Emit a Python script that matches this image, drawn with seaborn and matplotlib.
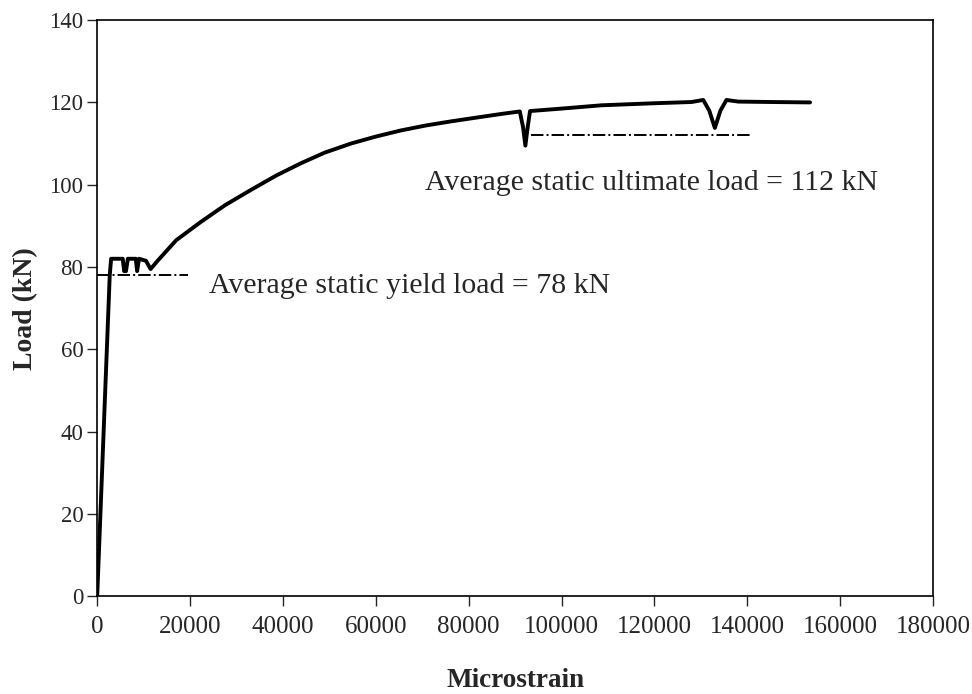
import pandas as pd
import matplotlib.pyplot as plt
import seaborn as sns

# Load-strain curve
strain = [0, 2700, 3000, 5500, 5800, 6200, 6600, 8300, 8600, 9000, 10500,
          11500, 13000, 17000, 22250, 27500, 33050, 38500, 43840, 49000,
          54640, 60000, 65440, 70800, 76240, 81600, 87040, 91000, 91700,
          92200, 92700, 93200, 100000, 108600, 120000, 128000, 130500,
          131800, 133000, 134200, 135500, 138000, 145000, 153500]
load = [0, 78, 82, 82, 79, 79, 82, 82, 79, 82, 81.5,
        79.5, 81.5, 86.5, 90.9, 95, 98.7, 102.2, 105.2, 107.8,
        110, 111.7, 113.2, 114.4, 115.4, 116.3, 117.2, 117.8, 114,
        109.5, 114, 117.9, 118.5, 119.3, 119.8, 120.1, 120.6,
        118, 113.8, 118, 120.6, 120.2, 120.1, 120.0]

# Average static reference lines
yield_x = [0, 19500]
yield_y = [78, 78]
ult_x = [93500, 140600]
ult_y = [112, 112]

yield_text = "Average static yield load = 78 kN"
ult_text = "Average static ultimate load = 112 kN"

x_ticks = [0, 20000, 40000, 60000, 80000, 100000, 120000, 140000, 160000, 180000]
y_ticks = [0, 20, 40, 60, 80, 100, 120, 140]

sns.set_style("ticks")
plt.rcParams['font.family'] = ['Liberation Serif', 'DejaVu Serif']

df = pd.DataFrame({'Microstrain': strain, 'Load': load})

fig = plt.figure(figsize=(9.72, 6.94), dpi=100)
ax = fig.add_axes([0.100, 0.141, 0.860, 0.830])

sns.lineplot(data=df, x='Microstrain', y='Load', sort=False, color='black',
             linewidth=2.8, ax=ax)
ax.plot(yield_x, yield_y, color='black', linestyle='-.', linewidth=1.4)
ax.plot(ult_x, ult_y, color='black', linestyle='-.', linewidth=1.4)

ax.text(24000, 75.4, yield_text, fontsize=21.5, va='center', ha='left')
ax.text(70600, 100.3, ult_text, fontsize=21.5, va='center', ha='left')

ax.set_xlim(0, 180000)
ax.set_ylim(0, 140)
ax.set_xticks(x_ticks)
ax.set_yticks(y_ticks)
ax.tick_params(axis='x', direction='out', length=7, width=1, pad=7, labelsize=18)
ax.tick_params(axis='y', direction='out', length=7, width=1, pad=3, labelsize=16.5)

for side in ['top', 'right', 'bottom', 'left']:
    ax.spines[side].set_visible(True)
    ax.spines[side].set_linewidth(1.2)
    ax.spines[side].set_color('black')

ax.set_xlabel('Microstrain', fontsize=19.5, fontweight='bold', labelpad=22)
ax.set_ylabel('Load (kN)', fontsize=20, fontweight='bold', labelpad=8)

fig.savefig('out.png', dpi=100, facecolor='white')
